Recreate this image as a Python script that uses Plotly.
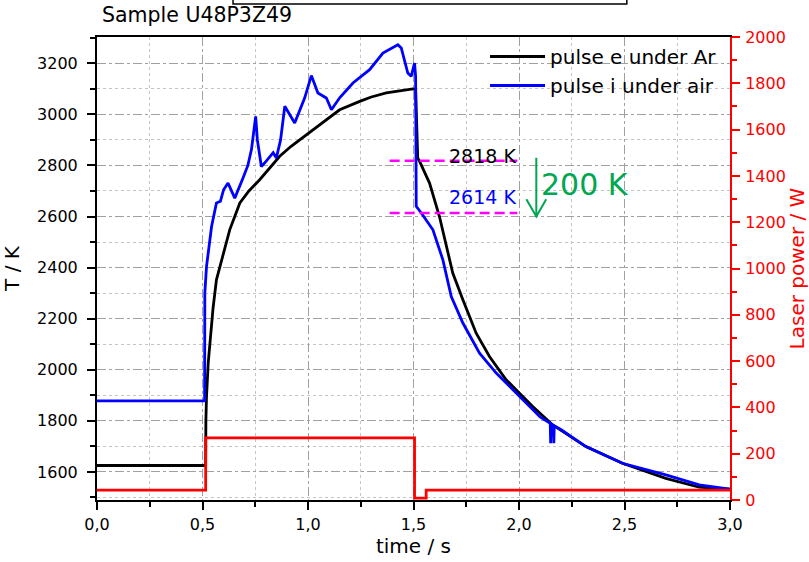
import plotly.graph_objects as go

# ---- data ----
t_ar = [0.0, 0.515, 0.516, 0.519, 0.527, 0.543, 0.550, 0.566, 0.600, 0.629, 0.677, 0.720, 0.771,
        0.866, 0.920, 0.992, 1.050, 1.103, 1.150, 1.245, 1.300, 1.371, 1.450, 1.497, 1.510, 1.520,
        1.529, 1.576, 1.623, 1.686, 1.734, 1.797, 1.860, 1.939, 2.000, 2.065, 2.160, 2.317, 2.490,
        2.696, 2.854, 3.000]
T_ar = [1625, 1625, 1800, 1895, 2026, 2196, 2241, 2352, 2460, 2548, 2653, 2700, 2744,
        2836, 2875, 2920, 2958, 2992, 3018, 3051, 3068, 3084, 3095, 3100, 3098, 2830,
        2816, 2731, 2600, 2379, 2274, 2143, 2052, 1961, 1910, 1856, 1784, 1699, 1634,
        1575, 1540, 1532]

t_air = [0.0, 0.510, 0.511, 0.519, 0.543, 0.566, 0.585, 0.600, 0.621, 0.653, 0.692, 0.715, 0.732,
         0.745, 0.752, 0.760, 0.779, 0.800, 0.819, 0.835, 0.850, 0.870, 0.890, 0.937, 0.984, 1.016,
         1.047, 1.087, 1.111, 1.150, 1.213, 1.292, 1.355, 1.426, 1.442, 1.473, 1.489, 1.505, 1.510,
         1.513, 1.537, 1.592, 1.639, 1.679, 1.734, 1.813, 1.892, 2.034, 2.100, 2.148, 2.150, 2.152,
         2.163, 2.165, 2.167, 2.200, 2.317, 2.490, 2.696, 2.854, 3.000]
T_air = [1878, 1878, 2300, 2404, 2561, 2653, 2660, 2705, 2731, 2672, 2751, 2800, 2862,
         2950, 2992, 2900, 2796, 2815, 2836, 2850, 2829, 2900, 3032, 2966, 3064, 3152,
         3084, 3064, 3018, 3065, 3123, 3175, 3240, 3273, 3260, 3162, 3149, 3201, 3150,
         2640, 2614, 2548, 2431, 2287, 2183, 2065, 1987, 1869, 1815, 1790, 1712, 1788,
         1782, 1712, 1780, 1765, 1699, 1634, 1588, 1549, 1532]

t_laser = [0.0, 0.515, 1.505, 1.560, 3.0]
P_laser = [43, 268, 8, 43, 43]

drop_x = [1.387, 1.992]
T_before = 2818
T_after = 2614
arrow_x = 2.082

FONT = "DejaVu Sans"

fig = go.Figure()

fig.add_trace(go.Scatter(x=t_laser, y=P_laser, mode="lines", line=dict(color="#ff0000", width=2.8, shape="hv"),
                         yaxis="y2", showlegend=False))
fig.add_trace(go.Scatter(x=t_ar, y=T_ar, mode="lines", name="pulse e under Ar",
                         line=dict(color="#000000", width=2.8)))
fig.add_trace(go.Scatter(x=t_air, y=T_air, mode="lines", name="pulse i under air",
                         line=dict(color="#0000ff", width=2.8)))
for T in (T_before, T_after):
    fig.add_trace(go.Scatter(x=drop_x, y=[T, T], mode="lines", showlegend=False,
                             line=dict(color="#ff00ff", width=2.5, dash="10px,5px")))

green = "#00a651"
# arrow (vertical shaft + open head)
fig.add_shape(type="line", xref="x", yref="y", x0=arrow_x, x1=arrow_x, y0=2830, y1=2600,
              line=dict(color=green, width=2))
fig.add_shape(type="path", xref="x", yref="y",
              path=f"M {arrow_x-0.047},{2668} L {arrow_x},{2600} L {arrow_x+0.047},{2668}",
              line=dict(color=green, width=2))

fig.add_annotation(x=1.997, y=2836, xref="x", yref="y", text="2818 K", showarrow=False,
                   xanchor="right", font=dict(family=FONT, size=19, color="#000000"))
fig.add_annotation(x=1.995, y=2676, xref="x", yref="y", text="2614 K", showarrow=False,
                   xanchor="right", font=dict(family=FONT, size=19, color="#0000ff"))
fig.add_annotation(x=2.093, y=2726, xref="x", yref="y", text="200 K", showarrow=False,
                   xanchor="left", font=dict(family=FONT, size=30, color=green))

# partially visible box at top
fig.add_shape(type="rect", xref="paper", yref="paper", x0=0.2149, x1=0.837, y0=1.0713, y1=1.3,
              line=dict(color="#000000", width=1.5))

fig.update_layout(
    width=809, height=562,
    margin=dict(l=97, r=79, t=37, b=62),
    paper_bgcolor="white", plot_bgcolor="white",
    font=dict(family=FONT, size=16, color="#000000"),
    title=dict(text="Sample U48P3Z49", xref="container", yref="container", x=102/809, y=1-15/562,
               xanchor="left", yanchor="middle", font=dict(family=FONT, size=20.5, color="#000000")),
    legend=dict(x=0.613, y=1.0, xanchor="left", yanchor="top", bgcolor="rgba(0,0,0,0)",
                font=dict(family=FONT, size=20), itemwidth=55, tracegroupgap=0),
    xaxis=dict(range=[0, 3.0], tickvals=[0, 0.5, 1.0, 1.5, 2.0, 2.5, 3.0],
               ticktext=["0,0", "0,5", "1,0", "1,5", "2,0", "2,5", "3,0"],
               ticks="outside", ticklen=8, tickwidth=2, tickcolor="#000000",
               showline=True, linecolor="#000000", linewidth=2, mirror=True,
               showgrid=True, gridcolor="#a0a0a0", gridwidth=1.2, griddash="dashdot",
               minor=dict(dtick=0.25, tick0=0, ticks="outside", ticklen=5, tickwidth=2, tickcolor="#000000",
                          showgrid=True, gridcolor="#c4c4c4", gridwidth=1.2, griddash="dot"),
               zeroline=False, ticklabelstandoff=1, automargin=False,
               title=dict(text="time / s", font=dict(family=FONT, size=20), standoff=4)),
    yaxis=dict(range=[1490, 3303], tick0=1600, dtick=200,
               ticks="outside", ticklen=8, tickwidth=2, tickcolor="#000000",
               showline=True, linecolor="#000000", linewidth=2,
               showgrid=True, gridcolor="#a0a0a0", gridwidth=1.2, griddash="dashdot",
               minor=dict(dtick=100, tick0=1500, ticks="outside", ticklen=5, tickwidth=2, tickcolor="#000000",
                          showgrid=True, gridcolor="#c4c4c4", gridwidth=1.2, griddash="dot"),
               zeroline=False, ticklabelstandoff=6, automargin=False,
               title=dict(text="T / K", font=dict(family=FONT, size=20), standoff=12)),
    yaxis2=dict(range=[0, 2000], tick0=0, dtick=200, overlaying="y", side="right",
                ticks="outside", ticklen=8, tickwidth=2, tickcolor="#ff0000",
                showline=True, linecolor="#ff0000", linewidth=2,
                showgrid=False, zeroline=False, automargin=False,
                minor=dict(dtick=100, ticks="outside", ticklen=5, tickwidth=2, tickcolor="#ff0000"),
                tickfont=dict(family=FONT, size=16, color="#ff0000"), ticklabelstandoff=2,
                title=dict(text="Laser power / W", font=dict(family=FONT, size=20, color="#ff0000"), standoff=4)),
)

fig.write_html("out.html", config={"displayModeBar": False},
               post_script="document.body.style.margin='0';document.body.style.overflow='hidden';")
